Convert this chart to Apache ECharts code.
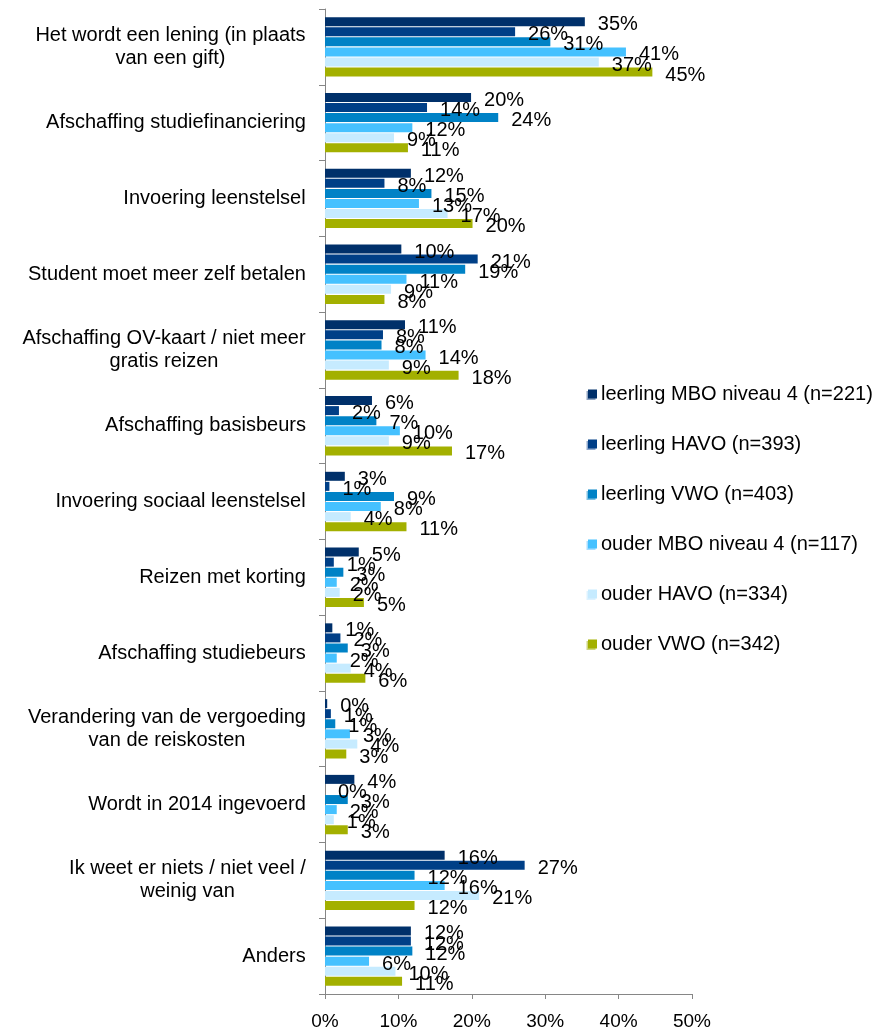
<!DOCTYPE html>
<html>
<head>
<meta charset="utf-8">
<script src="https://cdn.jsdelivr.net/npm/echarts@6/dist/echarts.min.js"></script>
<style>
html,body{margin:0;padding:0;background:#fff;}
#chart{width:884px;height:1034px;}
</style>
</head>
<body>
<div id="chart"></div>
<script>
const categories = [
  'Het wordt een lening (in plaats\nvan een gift)',
  'Afschaffing studiefinanciering',
  'Invoering leenstelsel',
  'Student moet meer zelf betalen',
  'Afschaffing OV-kaart / niet meer\ngratis reizen',
  'Afschaffing basisbeurs',
  'Invoering sociaal leenstelsel',
  'Reizen met korting',
  'Afschaffing studiebeurs',
  'Verandering van de vergoeding\nvan de reiskosten',
  'Wordt in 2014 ingevoerd',
  'Ik weet er niets / niet veel /\nweinig van',
  'Anders'
];
const seriesNames = [
  'leerling MBO niveau 4 (n=221)',
  'leerling HAVO (n=393)',
  'leerling VWO (n=403)',
  'ouder MBO niveau 4 (n=117)',
  'ouder HAVO (n=334)',
  'ouder VWO (n=342)'
];
const leerlingMBO = [35.4, 19.9, 11.7, 10.4, 10.9, 6.4, 2.7, 4.6, 1.0, 0.3, 4.0, 16.3, 11.7];
const leerlingHAVO = [25.9, 13.9, 8.1, 20.8, 7.9, 1.9, 0.6, 1.2, 2.1, 0.8, 0.0, 27.2, 11.7];
const leerlingVWO = [30.7, 23.6, 14.5, 19.1, 7.7, 7.0, 9.4, 2.5, 3.1, 1.4, 3.1, 12.2, 11.9];
const ouderMBO = [41.0, 11.9, 12.8, 11.1, 13.7, 10.2, 7.6, 1.6, 1.6, 3.4, 1.6, 16.3, 6.0];
const ouderHAVO = [37.3, 9.4, 16.7, 9.0, 8.7, 8.7, 3.5, 2.0, 3.5, 4.4, 1.2, 21.0, 9.6];
const ouderVWO = [44.6, 11.3, 20.1, 8.1, 18.2, 17.3, 11.1, 5.3, 5.5, 2.9, 3.1, 12.2, 10.5];
const xTicks = [0, 10, 20, 30, 40, 50];

const seriesData = [leerlingMBO, leerlingHAVO, leerlingVWO, ouderMBO, ouderHAVO, ouderVWO];
const colors = ['#00306A', '#003F87', '#0082C6', '#45C1FF', '#C6EBFF', '#A3B000'];
const shadowColors = ['#8FA3C0', '#8FA8CC', '#7FC0E2', '#A8DDFF', '#DDF2FF', '#CDD57F'];

const FONT = '"Liberation Sans", Arial, sans-serif';
const catFontSize = 20;

// measure lines to center multi-line labels within their own block
const cv = document.createElement('canvas').getContext('2d');
cv.font = catFontSize + 'px "Liberation Sans"';
const rich = {};
categories.forEach((c, i) => {
  const w = Math.max(...c.split('\n').map(l => cv.measureText(l).width));
  rich['c' + i] = {width: Math.ceil(w), align: 'center', fontSize: catFontSize, fontFamily: FONT, color: '#000', lineHeight: 23};
});

const chart = echarts.init(document.getElementById('chart'), null, {renderer: 'canvas'});
chart.setOption({
  animation: false,
  backgroundColor: '#fff',
  textStyle: {fontFamily: FONT},
  grid: {left: 325, right: 192, top: 9, bottom: 40, containLabel: false},
  legend: {
    orient: 'vertical',
    left: 583,
    top: 378,
    itemWidth: 9,
    itemHeight: 9,
    itemGap: 28,
    icon: 'rect',
    textStyle: {fontSize: 20, color: '#000', fontFamily: FONT, lineHeight: 22, padding: [0, 0, 0, -1]},
    data: seriesNames.map((n, i) => ({
      name: n,
      itemStyle: {shadowColor: shadowColors[i], shadowBlur: 0, shadowOffsetX: -1.5, shadowOffsetY: 1.5}
    }))
  },
  xAxis: {
    type: 'value',
    min: 0,
    max: 50,
    interval: 10,
    splitLine: {show: false},
    axisLine: {show: true, lineStyle: {color: '#868686', width: 1}},
    axisTick: {show: true, length: 5, lineStyle: {color: '#868686'}},
    axisLabel: {fontSize: 19, color: '#000', margin: 18, fontFamily: FONT,
      formatter: v => xTicks.includes(v) ? v + '%' : ''}
  },
  yAxis: {
    type: 'category',
    inverse: true,
    data: categories,
    axisLine: {show: true, lineStyle: {color: '#868686', width: 1}},
    axisTick: {show: true, length: 6, lineStyle: {color: '#868686'}},
    axisLabel: {
      margin: 19,
      fontSize: catFontSize,
      color: '#000',
      fontFamily: FONT,
      formatter: (v, idx) => v.split('\n').map(l => '{c' + idx + '|' + l + '}').join('\n'),
      rich: rich
    }
  },
  series: seriesNames.map((n, i) => ({
    name: n,
    type: 'bar',
    data: seriesData[i],
    barWidth: 9,
    barGap: '12%',
    itemStyle: {color: colors[i]},
    label: {
      show: true,
      position: 'right',
      distance: 13,
      offset: [0, 3],
      fontSize: 20,
      color: '#000',
      fontFamily: FONT,
      formatter: p => Math.round(p.value) + '%'
    }
  }))
});
</script>
</body>
</html>
